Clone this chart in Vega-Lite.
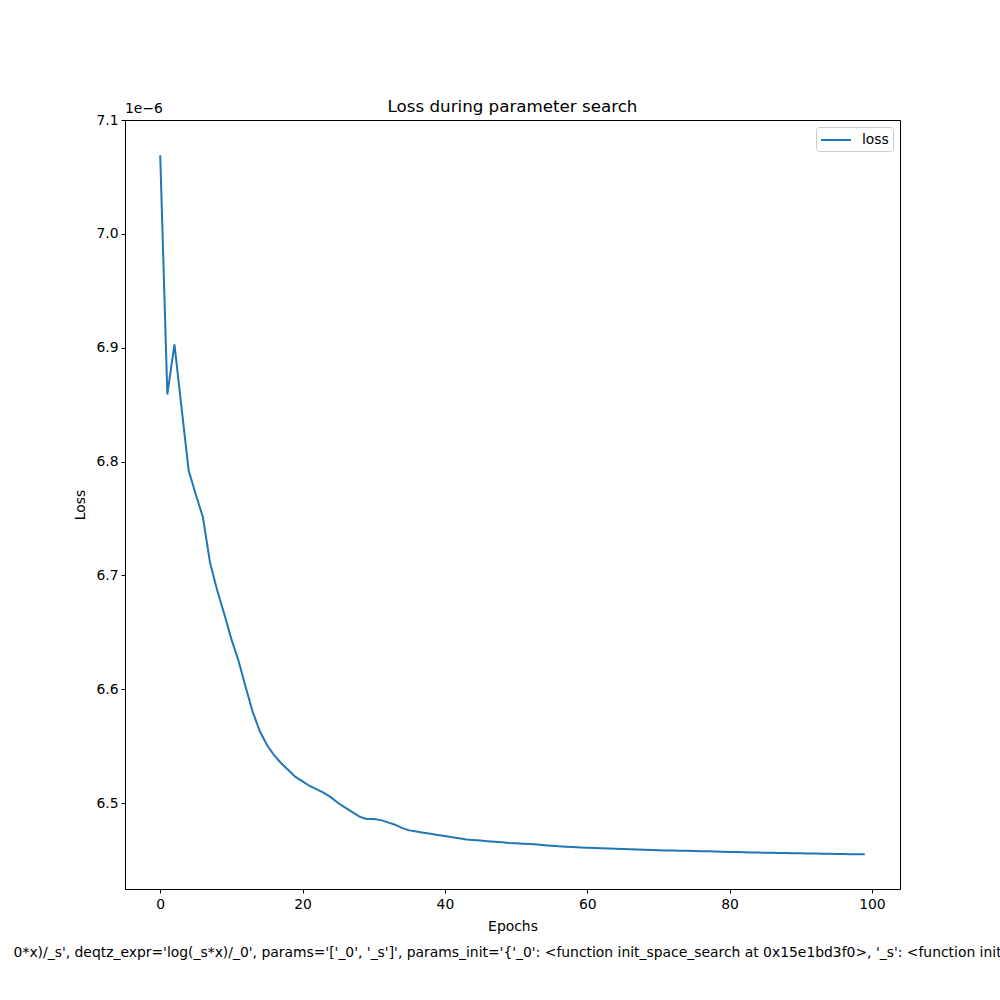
{
  "$schema": "https://vega.github.io/schema/vega-lite/v6.json",
  "autosize": "none",
  "padding": {"left": 125, "top": 120, "right": 100, "bottom": 111},
  "width": 775,
  "height": 769,
  "background": "white",
  "title": {"text": "Loss during parameter search", "fontSize": 16.7, "font": "DejaVu Sans", "fontWeight": "normal", "color": "black", "offset": -14, "anchor": "middle"},
  "config": {
    "font": "DejaVu Sans",
    "view": {"stroke": "black", "strokeWidth": 1},
    "axis": {
      "domainColor": "black", "domainWidth": 1, "tickColor": "black", "tickWidth": 1, "tickSize": 4,
      "labelFont": "DejaVu Sans", "labelFontSize": 13.9, "labelColor": "black", "labelPadding": 3,
      "titleFont": "DejaVu Sans", "titleFontSize": 13.9, "titleFontWeight": "normal", "titleColor": "black",
      "grid": false
    }
  },
  "layer": [
    {
      "data": {"values": [
        {"epoch": 0, "loss": 7.069e-6, "series": "loss"},
        {"epoch": 1, "loss": 6.859e-6, "series": "loss"},
        {"epoch": 2, "loss": 6.903e-6, "series": "loss"},
        {"epoch": 3, "loss": 6.847e-6, "series": "loss"},
        {"epoch": 4, "loss": 6.792e-6, "series": "loss"},
        {"epoch": 5, "loss": 6.771e-6, "series": "loss"},
        {"epoch": 6, "loss": 6.751e-6, "series": "loss"},
        {"epoch": 7, "loss": 6.711e-6, "series": "loss"},
        {"epoch": 8, "loss": 6.687e-6, "series": "loss"},
        {"epoch": 9, "loss": 6.666e-6, "series": "loss"},
        {"epoch": 10, "loss": 6.644e-6, "series": "loss"},
        {"epoch": 11, "loss": 6.625e-6, "series": "loss"},
        {"epoch": 12, "loss": 6.602e-6, "series": "loss"},
        {"epoch": 13, "loss": 6.580e-6, "series": "loss"},
        {"epoch": 14, "loss": 6.563e-6, "series": "loss"},
        {"epoch": 15, "loss": 6.551e-6, "series": "loss"},
        {"epoch": 16, "loss": 6.542e-6, "series": "loss"},
        {"epoch": 17, "loss": 6.535e-6, "series": "loss"},
        {"epoch": 18, "loss": 6.529e-6, "series": "loss"},
        {"epoch": 19, "loss": 6.523e-6, "series": "loss"},
        {"epoch": 20, "loss": 6.519e-6, "series": "loss"},
        {"epoch": 21, "loss": 6.515e-6, "series": "loss"},
        {"epoch": 22, "loss": 6.512e-6, "series": "loss"},
        {"epoch": 23, "loss": 6.509e-6, "series": "loss"},
        {"epoch": 24, "loss": 6.505e-6, "series": "loss"},
        {"epoch": 25, "loss": 6.500e-6, "series": "loss"},
        {"epoch": 26, "loss": 6.496e-6, "series": "loss"},
        {"epoch": 27, "loss": 6.492e-6, "series": "loss"},
        {"epoch": 28, "loss": 6.488e-6, "series": "loss"},
        {"epoch": 29, "loss": 6.486e-6, "series": "loss"},
        {"epoch": 30, "loss": 6.486e-6, "series": "loss"},
        {"epoch": 31, "loss": 6.485e-6, "series": "loss"},
        {"epoch": 32, "loss": 6.483e-6, "series": "loss"},
        {"epoch": 33, "loss": 6.481e-6, "series": "loss"},
        {"epoch": 34, "loss": 6.478e-6, "series": "loss"},
        {"epoch": 35, "loss": 6.476e-6, "series": "loss"},
        {"epoch": 36, "loss": 6.475e-6, "series": "loss"},
        {"epoch": 37, "loss": 6.474e-6, "series": "loss"},
        {"epoch": 38, "loss": 6.473e-6, "series": "loss"},
        {"epoch": 39, "loss": 6.472e-6, "series": "loss"},
        {"epoch": 40, "loss": 6.471e-6, "series": "loss"},
        {"epoch": 41, "loss": 6.470e-6, "series": "loss"},
        {"epoch": 42, "loss": 6.469e-6, "series": "loss"},
        {"epoch": 43, "loss": 6.468e-6, "series": "loss"},
        {"epoch": 44, "loss": 6.4675e-6, "series": "loss"},
        {"epoch": 45, "loss": 6.467e-6, "series": "loss"},
        {"epoch": 46, "loss": 6.4665e-6, "series": "loss"},
        {"epoch": 47, "loss": 6.466e-6, "series": "loss"},
        {"epoch": 48, "loss": 6.4655e-6, "series": "loss"},
        {"epoch": 49, "loss": 6.465e-6, "series": "loss"},
        {"epoch": 50, "loss": 6.4647e-6, "series": "loss"},
        {"epoch": 51, "loss": 6.4643e-6, "series": "loss"},
        {"epoch": 52, "loss": 6.464e-6, "series": "loss"},
        {"epoch": 53, "loss": 6.4635e-6, "series": "loss"},
        {"epoch": 54, "loss": 6.463e-6, "series": "loss"},
        {"epoch": 55, "loss": 6.4625e-6, "series": "loss"},
        {"epoch": 56, "loss": 6.462e-6, "series": "loss"},
        {"epoch": 57, "loss": 6.4617e-6, "series": "loss"},
        {"epoch": 58, "loss": 6.4614e-6, "series": "loss"},
        {"epoch": 59, "loss": 6.461e-6, "series": "loss"},
        {"epoch": 60, "loss": 6.4607e-6, "series": "loss"},
        {"epoch": 61, "loss": 6.4605e-6, "series": "loss"},
        {"epoch": 62, "loss": 6.4603e-6, "series": "loss"},
        {"epoch": 63, "loss": 6.46e-6, "series": "loss"},
        {"epoch": 64, "loss": 6.4598e-6, "series": "loss"},
        {"epoch": 65, "loss": 6.4596e-6, "series": "loss"},
        {"epoch": 66, "loss": 6.4594e-6, "series": "loss"},
        {"epoch": 67, "loss": 6.4592e-6, "series": "loss"},
        {"epoch": 68, "loss": 6.459e-6, "series": "loss"},
        {"epoch": 69, "loss": 6.4588e-6, "series": "loss"},
        {"epoch": 70, "loss": 6.4586e-6, "series": "loss"},
        {"epoch": 71, "loss": 6.4584e-6, "series": "loss"},
        {"epoch": 72, "loss": 6.4583e-6, "series": "loss"},
        {"epoch": 73, "loss": 6.4582e-6, "series": "loss"},
        {"epoch": 74, "loss": 6.458e-6, "series": "loss"},
        {"epoch": 75, "loss": 6.4579e-6, "series": "loss"},
        {"epoch": 76, "loss": 6.4577e-6, "series": "loss"},
        {"epoch": 77, "loss": 6.4576e-6, "series": "loss"},
        {"epoch": 78, "loss": 6.4574e-6, "series": "loss"},
        {"epoch": 79, "loss": 6.4572e-6, "series": "loss"},
        {"epoch": 80, "loss": 6.457e-6, "series": "loss"},
        {"epoch": 81, "loss": 6.4569e-6, "series": "loss"},
        {"epoch": 82, "loss": 6.4568e-6, "series": "loss"},
        {"epoch": 83, "loss": 6.4566e-6, "series": "loss"},
        {"epoch": 84, "loss": 6.4565e-6, "series": "loss"},
        {"epoch": 85, "loss": 6.4564e-6, "series": "loss"},
        {"epoch": 86, "loss": 6.4563e-6, "series": "loss"},
        {"epoch": 87, "loss": 6.4562e-6, "series": "loss"},
        {"epoch": 88, "loss": 6.4561e-6, "series": "loss"},
        {"epoch": 89, "loss": 6.456e-6, "series": "loss"},
        {"epoch": 90, "loss": 6.4558e-6, "series": "loss"},
        {"epoch": 91, "loss": 6.4557e-6, "series": "loss"},
        {"epoch": 92, "loss": 6.4556e-6, "series": "loss"},
        {"epoch": 93, "loss": 6.4555e-6, "series": "loss"},
        {"epoch": 94, "loss": 6.4554e-6, "series": "loss"},
        {"epoch": 95, "loss": 6.4553e-6, "series": "loss"},
        {"epoch": 96, "loss": 6.4552e-6, "series": "loss"},
        {"epoch": 97, "loss": 6.4551e-6, "series": "loss"},
        {"epoch": 98, "loss": 6.455e-6, "series": "loss"},
        {"epoch": 99, "loss": 6.455e-6, "series": "loss"}
      ]},
      "mark": {"type": "line", "strokeWidth": 2, "clip": true},
      "encoding": {
        "x": {
          "field": "epoch", "type": "quantitative",
          "scale": {"domain": [-4.95, 103.95], "nice": false, "zero": false},
          "axis": {
            "values": [0, 20, 40, 60, 80, 100],
            "title": ["Epochs", "0*x)/_s', deqtz_expr='log(_s*x)/_0', params='['_0', '_s']', params_init='{'_0': <function init_space_search at 0x15e1bd3f0>, '_s': <function init_l"],
            "titleLineHeight": 26, "titlePadding": 9, "labelPadding": 4
          }
        },
        "y": {
          "field": "loss", "type": "quantitative",
          "scale": {"domain": [6.4245e-6, 7.1e-6], "nice": false, "zero": false},
          "axis": {
            "values": [6.5e-6, 6.6e-6, 6.7e-6, 6.8e-6, 6.9e-6, 7.0e-6, 7.1e-6],
            "labelExpr": "format(datum.value * 1e6, '.1f')",
            "title": "Loss", "titlePadding": 8
          }
        },
        "color": {
          "field": "series", "type": "nominal",
          "scale": {"range": ["#1f77b4"]},
          "legend": {
            "title": null, "orient": "top-right", "offset": 7,
            "symbolType": "M-1,0L2.75,0", "symbolSize": 256, "symbolStrokeWidth": 2,
            "labelFontSize": 13.9, "labelFont": "DejaVu Sans", "labelColor": "black", "labelOffset": 24,
            "strokeColor": "#cccccc", "fillColor": "white", "cornerRadius": 3, "padding": 4
          }
        }
      }
    },
    {
      "data": {"values": [{"label": "1e\u22126"}]},
      "mark": {"type": "text", "align": "left", "baseline": "bottom", "dy": -4, "fontSize": 13.9, "font": "DejaVu Sans", "color": "black"},
      "encoding": {
        "x": {"datum": -4.95, "type": "quantitative"},
        "y": {"datum": 7.1e-6, "type": "quantitative"},
        "text": {"field": "label"}
      }
    }
  ]
}
